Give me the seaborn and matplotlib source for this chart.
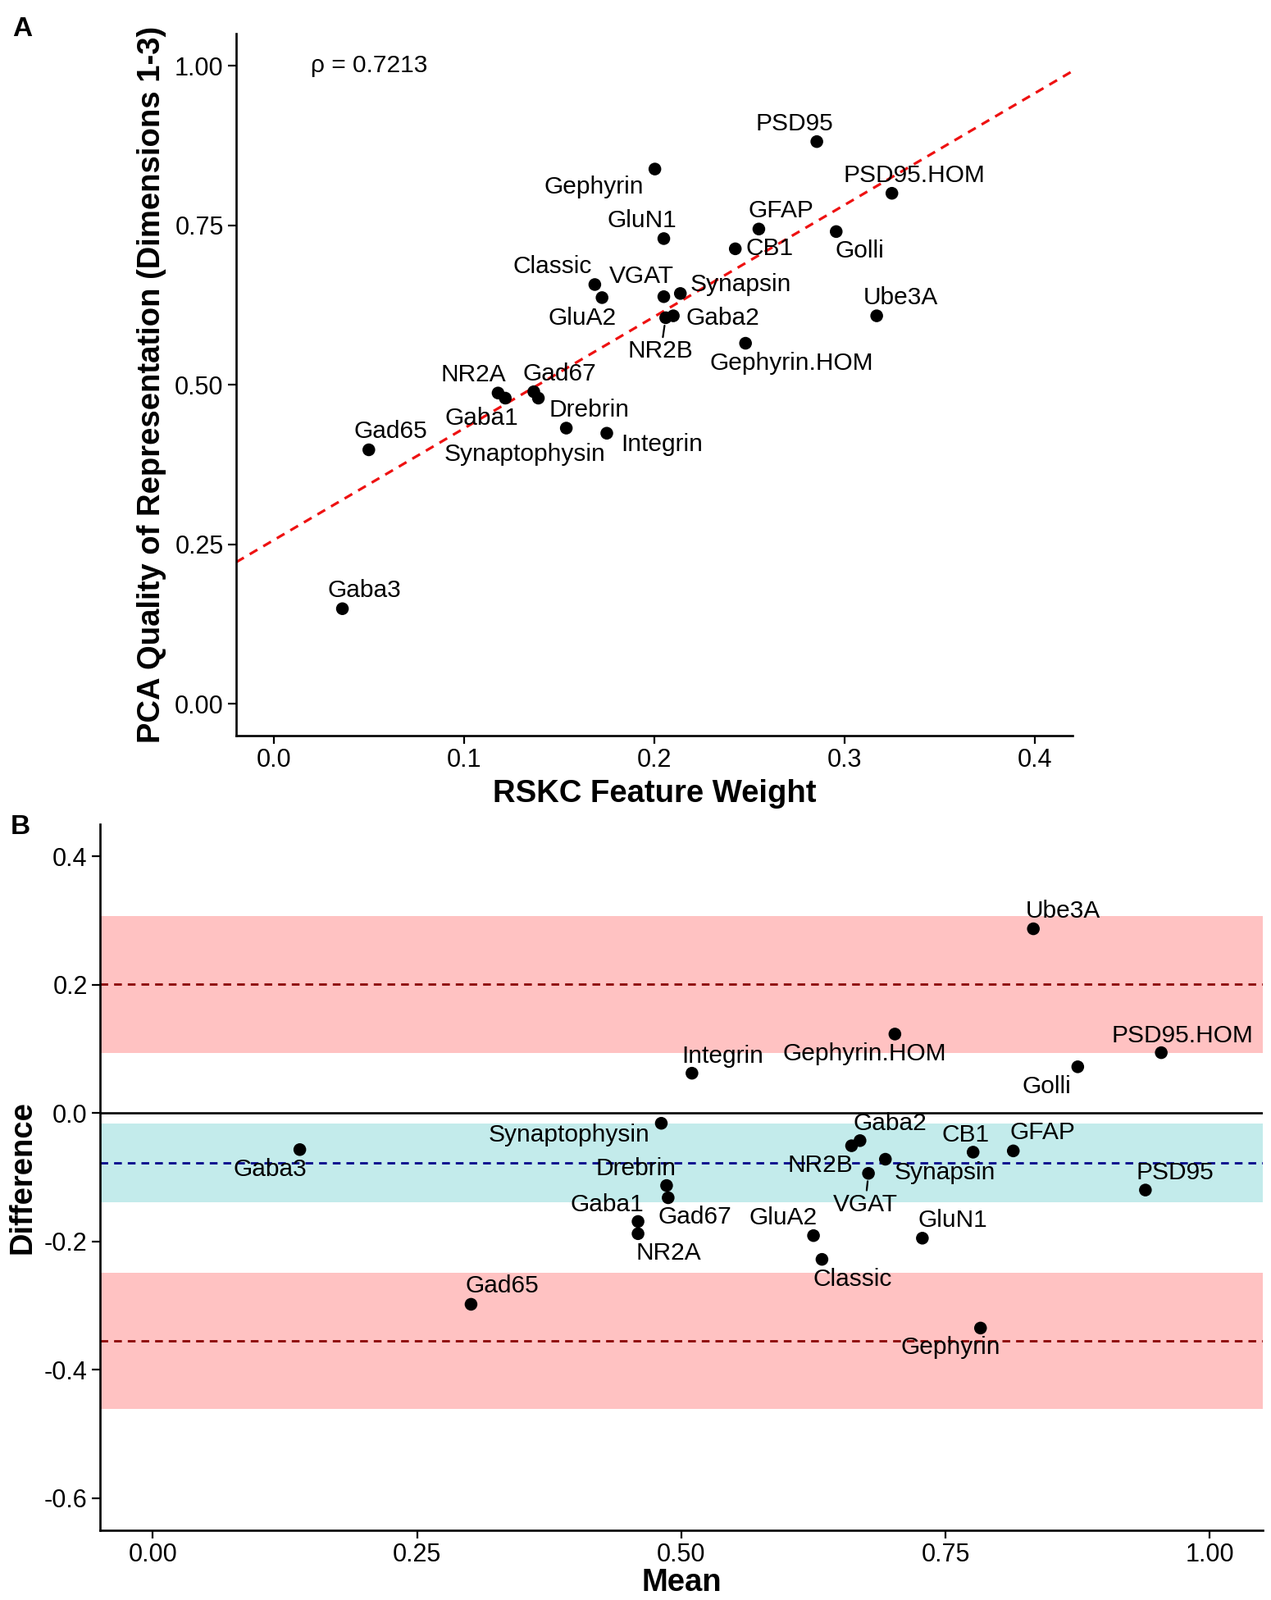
import numpy as np
import pandas as pd
import matplotlib
matplotlib.use("Agg")
import matplotlib.pyplot as plt
import seaborn as sns

sns.set_style("ticks")
plt.rcParams["font.family"] = ["Liberation Sans", "DejaVu Sans"]
plt.rcParams["text.color"] = "black"
plt.rcParams["axes.labelcolor"] = "black"

# -----------------------------------------------------------
# DATA
# -----------------------------------------------------------
markers = ["PSD95", "Gephyrin", "PSD95.HOM", "GFAP", "Golli", "GluN1", "CB1",
           "Classic", "VGAT", "Synapsin", "GluA2", "Gaba2", "NR2B", "Ube3A",
           "Gephyrin.HOM", "NR2A", "Gad67", "Gaba1", "Drebrin", "Synaptophysin",
           "Integrin", "Gad65", "Gaba3"]

# panel A: RSKC feature weight vs PCA quality of representation
rskc_weight = [0.2855, 0.2003, 0.325, 0.255, 0.2957, 0.205, 0.2426,
               0.1687, 0.205, 0.2137, 0.1725, 0.210, 0.206, 0.317,
               0.248, 0.1178, 0.1366, 0.1216, 0.139, 0.1537,
               0.175, 0.0498, 0.0359]
pca_quality = [0.881, 0.838, 0.800, 0.744, 0.740, 0.729, 0.713,
               0.657, 0.638, 0.643, 0.6365, 0.608, 0.605, 0.608,
               0.565, 0.487, 0.489, 0.479, 0.479, 0.432,
               0.424, 0.398, 0.149]
rho_text = "\u03c1 = 0.7213"

# panel B: Bland-Altman mean / difference
ba_mean = [0.939, 0.783, 0.954, 0.814, 0.875, 0.728, 0.776,
           0.633, 0.677, 0.693, 0.625, 0.669, 0.661, 0.833,
           0.702, 0.459, 0.4875, 0.459, 0.486, 0.481,
           0.510, 0.301, 0.139]
ba_diff = [-0.120, -0.335, 0.094, -0.059, 0.072, -0.195, -0.061,
           -0.228, -0.094, -0.072, -0.191, -0.043, -0.051, 0.287,
           0.123, -0.188, -0.132, -0.169, -0.113, -0.016,
           0.062, -0.298, -0.057]

# label offsets (pixels) as placed by the repel step
offA = {"PSD95": (-27, 22), "Gephyrin": (-74, -22), "PSD95.HOM": (27, 22),
        "GFAP": (27, 22), "Golli": (29, -24), "GluN1": (-27, 22), "CB1": (42, 0),
        "Classic": (-52, 22), "VGAT": (-27, 25), "Synapsin": (74, 11),
        "GluA2": (-24, -25), "Gaba2": (60, -3), "NR2B": (-6, -41),
        "Ube3A": (29, 22), "Gephyrin.HOM": (56, -24), "NR2A": (-30, 22),
        "Gad67": (31, 22), "Gaba1": (-29, -25), "Drebrin": (62, -15),
        "Synaptophysin": (-51, -32), "Integrin": (67, -14), "Gad65": (27, 22),
        "Gaba3": (27, 22)}
offB = {"PSD95": (36, 21), "Gephyrin": (-37, -24), "PSD95.HOM": (26, 21),
        "GFAP": (36, 22), "Golli": (-38, -24), "GluN1": (37, 22), "CB1": (-9, 21),
        "Classic": (37, -24), "VGAT": (-4, -38), "Synapsin": (73, -16),
        "GluA2": (-37, 22), "Gaba2": (37, 21), "NR2B": (-38, -24),
        "Ube3A": (36, 22), "Gephyrin.HOM": (-37, -24), "NR2A": (37, -24),
        "Gad67": (33, -24), "Gaba1": (-38, 20), "Drebrin": (-37, 21),
        "Synaptophysin": (-112, -14), "Integrin": (37, 21), "Gad65": (38, 22),
        "Gaba3": (-36, -24)}
segA = ["NR2B"]
segB = ["VGAT"]

dfA = pd.DataFrame({"marker": markers, "weight": rskc_weight, "quality": pca_quality})
dfB = pd.DataFrame({"marker": markers, "mean": ba_mean, "diff": ba_diff})

# Bland-Altman statistics
n = len(dfB)
bias = dfB["diff"].mean()
sd = dfB["diff"].std()
loa_hi = bias + 1.96 * sd
loa_lo = bias - 1.96 * sd
t_crit = 2.074  # t(0.975, df=22)
ci_bias = t_crit * sd / np.sqrt(n)
ci_loa = t_crit * np.sqrt(3 * sd ** 2 / n)

TXT = 21.5
TICK = 22
TITLE = 27.5

fig = plt.figure(figsize=(15.5, 19.51), dpi=100)
axA = fig.add_axes([0.1858, 0.5402, 0.658, 0.4387])
axB = fig.add_axes([0.0787, 0.0436, 0.9148, 0.4413])


def style_axis(ax):
    for side in ["top", "right"]:
        ax.spines[side].set_visible(False)
    for side in ["left", "bottom"]:
        ax.spines[side].set_linewidth(1.9)
        ax.spines[side].set_color("black")
    ax.tick_params(axis="both", labelsize=TICK, length=7, width=1.6,
                   colors="black", pad=4)
    ax.grid(False)


def add_labels(ax, df, xcol, ycol, offsets, segs):
    for _, r in df.iterrows():
        dx, dy = offsets[r["marker"]]
        kw = {}
        if r["marker"] in segs:
            kw["arrowprops"] = dict(arrowstyle="-", color="black", lw=1.6,
                                    shrinkA=0, shrinkB=7)
        ax.annotate(r["marker"], (r[xcol], r[ycol]), xytext=(dx, dy),
                    textcoords="offset pixels", ha="center", va="center",
                    fontsize=TXT, color="black", **kw)


# -----------------------------------------------------------
# PANEL A
# -----------------------------------------------------------
axA.set_xlim(-0.02, 0.42)
axA.set_ylim(-0.05, 1.05)
sns.regplot(data=dfA, x="weight", y="quality", ax=axA, scatter=False, ci=None,
            truncate=False, line_kws=dict(color="#EE1111", ls=(0, (3.4, 2.6)), lw=2.3))
sns.scatterplot(data=dfA, x="weight", y="quality", ax=axA, color="black",
                s=125, edgecolor="none", zorder=3)
add_labels(axA, dfA, "weight", "quality", offA, segA)
axA.text(0.05, 1.0, rho_text, ha="center", va="center", fontsize=TXT)
axA.set_xlim(-0.02, 0.42)
axA.set_ylim(-0.05, 1.05)
axA.set_xticks([0.0, 0.1, 0.2, 0.3, 0.4])
axA.set_xticklabels(["0.0", "0.1", "0.2", "0.3", "0.4"])
axA.set_yticks([0.0, 0.25, 0.5, 0.75, 1.0])
axA.set_yticklabels(["0.00", "0.25", "0.50", "0.75", "1.00"])
axA.set_xlabel("RSKC Feature Weight", fontsize=TITLE, fontweight="bold", va="top")
axA.set_ylabel("PCA Quality of Representation (Dimensions 1-3)", fontsize=TITLE,
               fontweight="bold")
axA.xaxis.set_label_coords(0.5, -0.062)
axA.yaxis.set_label_coords(-0.083, 0.5)
style_axis(axA)

# -----------------------------------------------------------
# PANEL B
# -----------------------------------------------------------
axB.axhspan(loa_hi - ci_loa, loa_hi + ci_loa, color="#FFC2C2", lw=0, zorder=0)
axB.axhspan(loa_lo - ci_loa, loa_lo + ci_loa, color="#FFC2C2", lw=0, zorder=0)
axB.axhspan(bias - ci_bias, bias + ci_bias, color="#C3EBEB", lw=0, zorder=0)
axB.axhline(0, color="black", lw=1.9, zorder=1)
axB.axhline(loa_hi, color="#8B0000", ls=(0, (3.4, 2.6)), lw=2.0, zorder=1)
axB.axhline(loa_lo, color="#8B0000", ls=(0, (3.4, 2.6)), lw=2.0, zorder=1)
axB.axhline(bias, color="#00008B", ls=(0, (3.4, 2.6)), lw=2.0, zorder=1)
sns.scatterplot(data=dfB, x="mean", y="diff", ax=axB, color="black",
                s=125, edgecolor="none", zorder=3)
add_labels(axB, dfB, "mean", "diff", offB, segB)
axB.set_xlim(-0.05, 1.05)
axB.set_ylim(-0.65, 0.45)
axB.set_xticks([0.0, 0.25, 0.5, 0.75, 1.0])
axB.set_xticklabels(["0.00", "0.25", "0.50", "0.75", "1.00"])
axB.set_yticks([-0.6, -0.4, -0.2, 0.0, 0.2, 0.4])
axB.set_yticklabels(["-0.6", "-0.4", "-0.2", "0.0", "0.2", "0.4"])
axB.set_xlabel("Mean", fontsize=TITLE, fontweight="bold", va="top")
axB.set_ylabel("Difference", fontsize=TITLE, fontweight="bold")
axB.xaxis.set_label_coords(0.5, -0.053)
axB.yaxis.set_label_coords(-0.054, 0.5)
style_axis(axB)

fig.text(27 / 1550, 1 - 36 / 1951, "A", fontsize=24, fontweight="bold",
         ha="center", va="center")
fig.text(25 / 1550, 1 - 1008 / 1951, "B", fontsize=24, fontweight="bold",
         ha="center", va="center")

fig.savefig("out.png", dpi=100)
